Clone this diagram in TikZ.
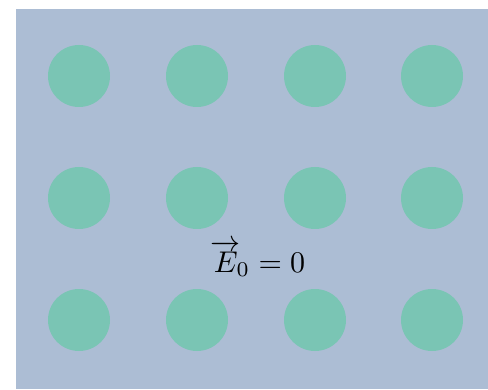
\documentclass[tikz,border=0pt]{standalone}
\usepackage{amsmath}
\definecolor{plate}{RGB}{172,189,212}
\definecolor{ion}{RGB}{122,197,180}

\begin{document}
\begin{tikzpicture}[x=1pt, y=1pt,
  ion/.style={circle, fill=ion, draw=none, minimum size=62pt, inner sep=0pt}]
\useasboundingbox (0,0) rectangle (488,389);
% --- conductor interior ---
\fill[plate] (16,0) rectangle (488,380);
% --- lattice of ions: 3 rows x 4 columns ---
\foreach \r/\y in {1/313, 2/191, 3/69}
  \foreach \c/\x in {1/79, 2/197, 3/315, 4/432}
    \node[ion] (ion\r\c) at (\x,\y) {};
% --- field label ---
\node[anchor=base, scale=3, inner sep=0pt] (field) at (258,117) {$\overrightarrow{E}_{\!0}=0$};
\end{tikzpicture}
\end{document}
